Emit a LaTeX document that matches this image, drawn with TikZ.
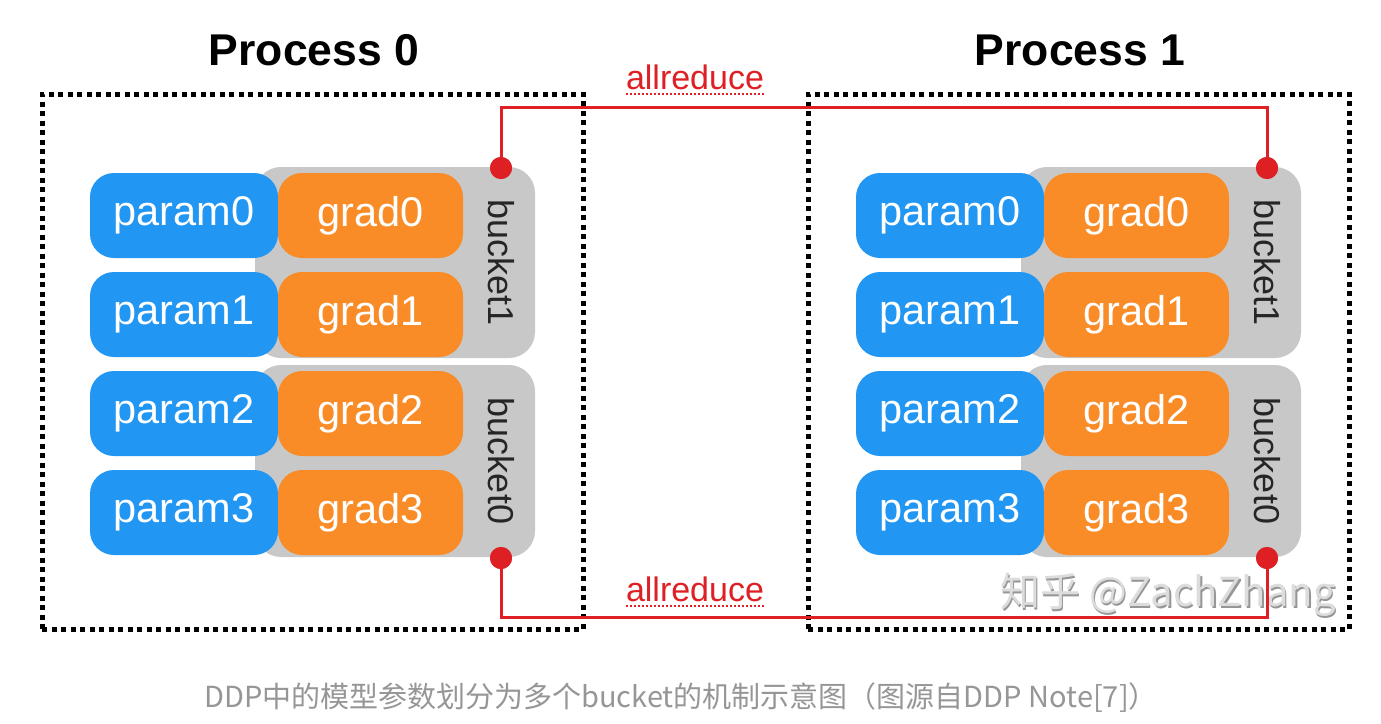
\documentclass[tikz,border=0pt]{standalone}
\usepackage{fontspec}
\setmainfont{Liberation Sans}
\newfontfamily\cjk{Noto Sans CJK SC}
\definecolor{pblue}{RGB}{33,150,243}
\definecolor{gorange}{RGB}{250,140,40}
\definecolor{bgray}{RGB}{200,200,200}
\definecolor{ared}{RGB}{222,32,36}
\definecolor{capgray}{RGB}{150,150,150}
\definecolor{wmgray}{RGB}{220,220,220}
\definecolor{wmshadow}{RGB}{150,150,150}
\tikzset{
  parambox/.style={fill=pblue, rounded corners=24pt, minimum width=188pt, minimum height=85pt,
    text=white, inner sep=0pt, font=\fontsize{41.5}{41.5}\selectfont},
  gradbox/.style={fill=gorange, rounded corners=24pt, minimum width=185pt, minimum height=85pt,
    text=white, inner sep=0pt, font=\fontsize{41.5}{41.5}\selectfont},
  bucketbox/.style={fill=bgray, rounded corners=26pt, minimum width=280pt, inner sep=0pt},
  bucketlabel/.style={rotate=-90, text=black!85, inner sep=0pt, font=\fontsize{36}{36}\selectfont},
  procbox/.style={draw=black, line width=5pt, dash pattern=on 5pt off 4.5pt, inner sep=0pt},
  title/.style={font=\fontsize{44.5}{44.5}\bfseries\selectfont, inner sep=0pt},
  reddot/.style={circle, fill=ared, minimum size=22pt, inner sep=0pt},
  redline/.style={draw=ared, line width=3pt},
  arlabel/.style={text=ared, inner sep=0pt, font=\fontsize{34}{34}\selectfont},
  arunder/.style={draw=ared, line width=2pt, dash pattern=on 2pt off 2pt},
}
\begin{document}
\begin{tikzpicture}[x=1pt,y=-1pt]
\useasboundingbox (0,0) rectangle (1381,723);
\fill[white] (0,0) rectangle (1381,723);

\foreach \p/\dx in {0/0,1/766}{
  \node[procbox, minimum width=541pt, minimum height=535pt] (proc\p) at (312.5+\dx,361.5) {};
  \node[title] (title\p) at (314+\dx,50) {Process \p};
  \node[bucketbox, minimum height=191pt] (bucketA\p) at (395+\dx,262.5) {};
  \node[bucketbox, minimum height=192pt] (bucketB\p) at (395+\dx,461) {};
  \node[bucketlabel] (blabA\p) at (501+\dx,262.5) {bucket1};
  \node[bucketlabel] (blabB\p) at (501+\dx,461) {bucket0};
  \foreach \r/\yy in {0/213.5,1/312.5,2/411.5,3/510.5}{
    \node[parambox] (param\r-\p) at (184+\dx,\yy+2) {param\r};
    \node[gradbox] (grad\r-\p) at (370.5+\dx,\yy+2) {grad\r};
  }
}

% watermark
\node[text=wmshadow, inner sep=0pt, font=\cjk\fontsize{40}{40}\selectfont] (wmshadow) at (1169.5,596.5) {知乎 @ZachZhang};
\node[text=wmgray, inner sep=0pt, font=\cjk\fontsize{40}{40}\selectfont] (wm) at (1168,595) {知乎 @ZachZhang};

% allreduce connectors
\coordinate (atop) at (884,107);
\coordinate (abot) at (884,617);
\node[reddot] (d0t) at (501,168) {};
\node[reddot] (d1t) at (1267,168) {};
\node[reddot] (d0b) at (501,558) {};
\node[reddot] (d1b) at (1267,558) {};
\draw[redline] (d0t.center) |- (atop) -| (d1t.center);
\draw[redline] (d0b.center) |- (abot) -| (d1b.center);
\node[reddot] at (d0t) {};
\node[reddot] at (d1t) {};
\node[reddot] at (d0b) {};
\node[reddot] at (d1b) {};

\node[arlabel, anchor=base] (ar0) at (695,89) {allreduce};
\node[arlabel, anchor=base] (ar1) at (695,601) {allreduce};
\draw[arunder] ([yshift=-5pt]ar0.base west) -- ([yshift=-5pt]ar0.base east);
\draw[arunder] ([yshift=-5pt]ar1.base west) -- ([yshift=-5pt]ar1.base east);

% caption
\node[text=capgray, inner sep=0pt, font=\cjk\fontsize{29}{29}\selectfont] (caption) at (681,698)
  {DDP中的模型参数划分为多个bucket的机制示意图（图源自DDP Note[7]）};
\end{tikzpicture}
\end{document}
